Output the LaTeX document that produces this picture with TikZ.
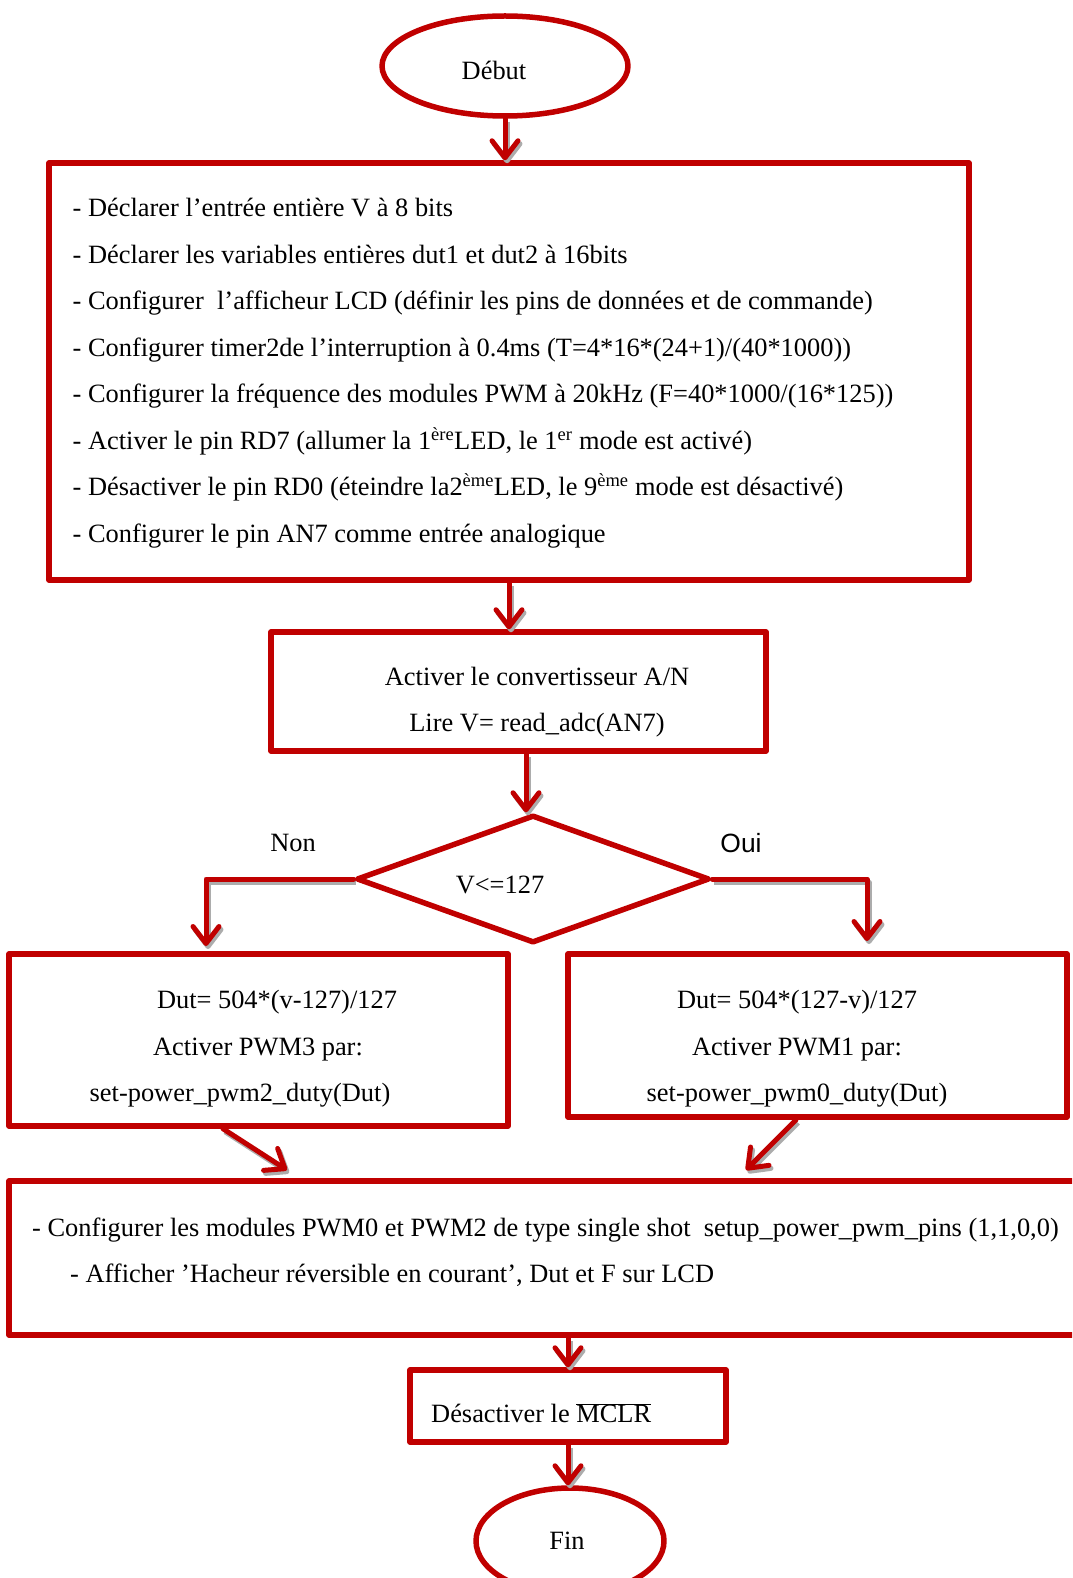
\documentclass[tikz,border=0pt]{standalone}
\usepackage{fontspec}
\setmainfont{Liberation Serif}
\newfontfamily\ouifont{Liberation Sans}
\usetikzlibrary{shapes.geometric,arrows.meta}
\definecolor{rouge}{RGB}{192,0,0}
\tikzset{
	bloc/.style={draw=rouge,line width=5.5pt,inner sep=0pt},
	texte/.style={inner sep=0pt,font=\fontsize{26.4}{46.5}\selectfont},
	fleche/.style={draw=rouge,line width=5pt,line cap=round,-{Straight Barb[length=17pt,width=26pt,round]},
		preaction={draw=gray!65,line width=5pt,-{Straight Barb[length=17pt,width=26pt,round]},transform canvas={shift={(2pt,-3pt)}}}}
}
\begin{document}
\begin{tikzpicture}[x=1pt,y=-1pt,line join=round]
			\clip (0,0) rectangle (1072,1578);
			\node[bloc,ellipse,minimum width=246pt,minimum height=100pt] (debut) at (505,66) {};
			\node[texte] (debuttxt) at (494,70) {Début};
			\node[bloc,minimum width=920pt,minimum height=417pt] (init) at (509,371.5) {};
			\node[texte,anchor=west,align=left] (inittxt) at (72.5,373) {- Déclarer l’entrée entière V à 8 bits\\
				- Déclarer les variables entières dut1 et dut2 à 16bits\\
				- Configurer \ l’afficheur LCD (définir les pins de données et de commande)\\
				- Configurer timer2de l’interruption à 0.4ms (T=4*16*(24+1)/(40*1000))\\
				- Configurer la fréquence des modules PWM à 20kHz (F=40*1000/(16*125))\\
				- Activer le pin RD7 (allumer la 1\textsuperscript{ère}LED, le 1\textsuperscript{er} mode est activé)\\
				- Désactiver le pin RD0 (éteindre la2\textsuperscript{ème}LED, le 9\textsuperscript{ème} mode est désactivé)\\
				- Configurer le pin AN7 comme entrée analogique};
			\node[bloc,minimum width=495pt,minimum height=119pt] (conv) at (518.5,691.5) {};
			\node[texte,align=center] (convtxt) at (537,702) {Activer le convertisseur A/N\\Lire V= read\_adc(AN7)};
			\node[bloc,diamond,minimum width=353pt,minimum height=128pt] (test) at (533,879) {};
			\node[texte] (testtxt) at (500,885) {V<=127};
			\node[texte] (non) at (293,843) {Non};
			\node[texte,font=\fontsize{26.4}{30}\ouifont] (oui) at (741,843) {Oui};
			\node[bloc,minimum width=499pt,minimum height=172pt] (gauche) at (258.5,1040) {};
			\node[texte,align=center] (gauchetxt) at (240,1049) {\hspace*{74pt}Dut= 504*(v-127)/127\\\hspace*{36pt}Activer PWM3 par:\\set-power\_pwm2\_duty(Dut)};
			\node[bloc,minimum width=499pt,minimum height=163pt] (droite) at (817.5,1035.5) {};
			\node[texte,align=center] (droitetxt) at (797,1049) {Dut= 504*(127-v)/127\\Activer PWM1 par:\\set-power\_pwm0\_duty(Dut)};
			\node[bloc,minimum width=1091pt,minimum height=154pt] (pwm) at (554.5,1258) {};
			\node[texte,anchor=west,align=left] (pwmtxt) at (32,1252) {- Configurer les modules PWM0 et PWM2 de type single shot \ setup\_power\_pwm\_pins (1,1,0,0)\\
				\hspace*{38pt}- Afficher ’Hacheur réversible en courant’, Dut et F sur LCD};
			\node[bloc,minimum width=316pt,minimum height=72pt] (mclr) at (568,1406) {};
			\node[texte,anchor=west] (mclrtxt) at (431,1413) {Désactiver le $\overline{\mbox{MCLR}}$};
			\node[bloc,ellipse,minimum width=188pt,minimum height=106pt] (fin) at (570,1541) {};
			\node[texte] (fintxt) at (567,1541) {Fin};
			\coordinate (nonfin) at (206,946);
			\coordinate (ouifin) at (867,941);
			\coordinate (gauchefin) at (287,1170);
			\coordinate (droitefin) at (746,1170);
			\draw[fleche] (debut.south) -- (debut.south |- init.north);
			\draw[fleche] (init.south) -- (init.south |- conv.north);
			\draw[fleche] ([xshift=7.5pt]conv.south) -- ([xshift=7.5pt]conv.south |- test.north);
			\draw[fleche] (test.west) -| (nonfin);
			\draw[fleche] (test.east) -| (ouifin);
			\draw[fleche] ([xshift=-35.5pt]gauche.south) -- (gauchefin);
			\draw[fleche] ([xshift=-21.5pt]droite.south) -- (droitefin);
			\draw[fleche] (pwm.south -| mclr.north) -- (mclr.north);
			\draw[fleche] (mclr.south) -- (mclr.south |- fin.north);
		\end{tikzpicture}
\end{document}
